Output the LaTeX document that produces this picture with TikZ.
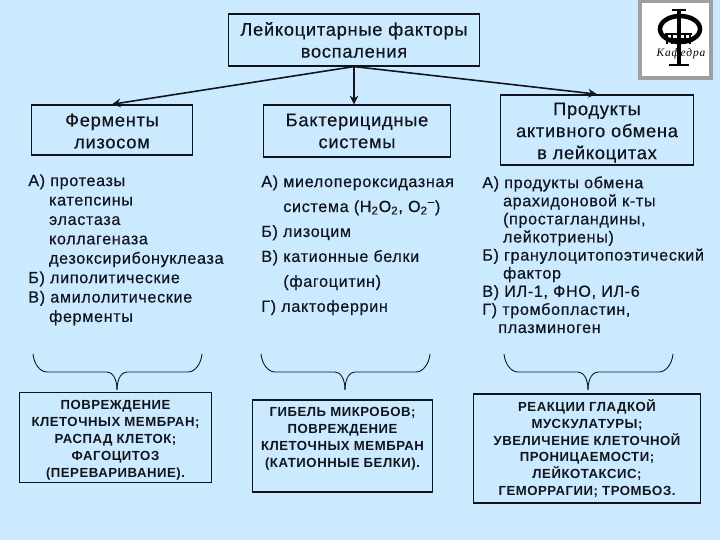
\documentclass[tikz,border=0pt]{standalone}
\usepackage{fontspec}
\setmainfont[LetterSpace=4,UprightFeatures={FakeBold=0.35}]{Liberation Sans}
\newfontfamily\logofont[LetterSpace=8]{Liberation Serif}
\usetikzlibrary{arrows.meta, positioning}
\definecolor{slidebg}{HTML}{CBE9FF}
\definecolor{inkdark}{HTML}{10141C}
\newcommand{\pxfont}[2]{\fontsize{#1}{#2}\selectfont}
\newcommand{\listindent}[1]{\hspace*{#1}}
\newcommand{\pushdown}[1]{\rule{0pt}{#1}}
\tikzset{
    headbox/.style={rectangle, draw=inkdark, line width=0.75pt, inner sep=0pt, align=center, text=inkdark, font=\pxfont{10.4}{12.5}},
    resultbox/.style={rectangle, draw=inkdark, line width=0.75pt, inner sep=0pt, align=center, text=inkdark, font=\bfseries\pxfont{7.5}{9.6}},
    listtext/.style={anchor=north west, inner sep=0pt, align=left, text=inkdark},
    link/.style={line width=0.9pt, draw=inkdark, -{Stealth[length=5pt,width=5pt]}},
    pics/bracket/.style={code={
        \draw[line width=0.5pt, inkdark] (-84,-36) .. controls (-83,-26) and (-77,-18) .. (-70,-18) -- (-10,-18) .. controls (-5,-18) and (0,-12) .. (0,0);
        \draw[line width=0.5pt, inkdark] (85,-36) .. controls (84,-26) and (78,-18) .. (71,-18) -- (10,-18) .. controls (5,-18) and (0,-12) .. (0,0);
    }}
}
\begin{document}
\begin{tikzpicture}[x=0.02cm, y=-0.02cm]
        \fill[slidebg] (0,0) rectangle (720,540);
        \useasboundingbox (0,0) rectangle (720,540);

        % Logo
        \draw[fill=white, draw=gray!75, line width=2pt] (640,1) rectangle (711,78);
        \draw[line width=2.6pt, black] (680,29) ellipse (20 and 13);
        \draw[line width=2pt, black] (679,11) -- (679,65);
        \draw[line width=1pt, black] (672,10) -- (686,10);
        \draw[line width=1pt, black] (669,65) -- (689,65);
        \draw[line width=0.8pt, black] (665,34) -- (692,34);
        \draw[line width=0.8pt, black] (665,39) -- (692,39);
        \foreach \colx in {667,672,685,690} {
            \draw[line width=0.8pt, black] (\colx,34) -- (\colx,44);
        }
        \node (logotext) at (681,54) [inner sep=0pt, font=\logofont\itshape\pxfont{6.5}{8}] {Кафедра};

        % Top row
        \node (root) at (354,40) [headbox, minimum width=142.5pt, minimum height=29.5pt] {Лейкоцитарные факторы\\воспаления};
        \node (enzymes) at (112,130) [headbox, minimum width=92pt, minimum height=28.5pt] {\pushdown{8.5pt}Ферменты\\лизосом};
        \node (bactericidal) at (357,131) [headbox, minimum width=106.5pt, minimum height=29.5pt] {Бактерицидные\\системы};
        \node (products) at (597,130) [headbox, minimum width=110pt, minimum height=40pt] {\pushdown{10.2pt}Продукты\\активного обмена\\в лейкоцитах};

        % Links
        \draw[link] (root.south) -- (enzymes.north);
        \draw[link, line width=0.6pt] (root.south) -- (root.south |- bactericidal.north);
        \draw[link] (root.south) -- (products.north);

        % Lists
        \node (listA) at (28,174) [listtext, font=\pxfont{9.2}{11.05}] {А) протеазы\\
            \listindent{11.8pt}катепсины\\
            \listindent{11.8pt}эластаза\\
            \listindent{11.8pt}коллагеназа\\
            \listindent{11.8pt}дезоксирибонуклеаза\\
            Б) липолитические\\
            В) амилолитические\\
            \listindent{11.8pt}ферменты};
        \node (listB) at (261,175) [listtext, font=\pxfont{9.2}{14.2}] {А) миелопероксидазная\\
            \listindent{12.5pt}система (Н\textsubscript{2}О\textsubscript{2}, О\textsubscript{2}\textsuperscript{--})\\
            Б) лизоцим\\
            В) катионные белки\\
            \listindent{12.5pt}(фагоцитин)\\
            Г) лактоферрин};
        \node (listC) at (482,176) [listtext, font=\pxfont{9.2}{10.3}] {А) продукты обмена\\
            \listindent{11.8pt}арахидоновой к-ты\\
            \listindent{11.8pt}(простагландины,\\
            \listindent{11.8pt}лейкотриены)\\
            Б) гранулоцитопоэтический\\
            \listindent{11.8pt}фактор\\
            В) ИЛ-1, ФНО, ИЛ-6\\
            Г) тромбопластин,\\
            \listindent{9.1pt}плазминоген};

        % Result boxes
        \node (resultA) at (115.5,437.5) [resultbox, minimum width=109.5pt, minimum height=51.5pt] {\pushdown{8.2pt}ПОВРЕЖДЕНИЕ\\КЛЕТОЧНЫХ МЕМБРАН;\\РАСПАД КЛЕТОК;\\ФАГОЦИТОЗ\\(ПЕРЕВАРИВАНИЕ).};
        \node (resultB) at (342.5,446) [resultbox, minimum width=102.5pt, minimum height=52.5pt] {ГИБЕЛЬ МИКРОБОВ;\\ПОВРЕЖДЕНИЕ\\КЛЕТОЧНЫХ МЕМБРАН\\(КАТИОННЫЕ БЕЛКИ).\\\mbox{}};
        \node (resultC) at (587,448.5) [resultbox, minimum width=129pt, minimum height=62pt] {РЕАКЦИИ ГЛАДКОЙ\\МУСКУЛАТУРЫ;\\УВЕЛИЧЕНИЕ КЛЕТОЧНОЙ\\ПРОНИЦАЕМОСТИ;\\ЛЕЙКОТАКСИС;\\ГЕМОРРАГИИ; ТРОМБОЗ.};

        % Brackets
        \pic at (117,390) {bracket};
        \pic at (345,390) {bracket};
        \pic at (588,390) {bracket};
\end{tikzpicture}
\end{document}
